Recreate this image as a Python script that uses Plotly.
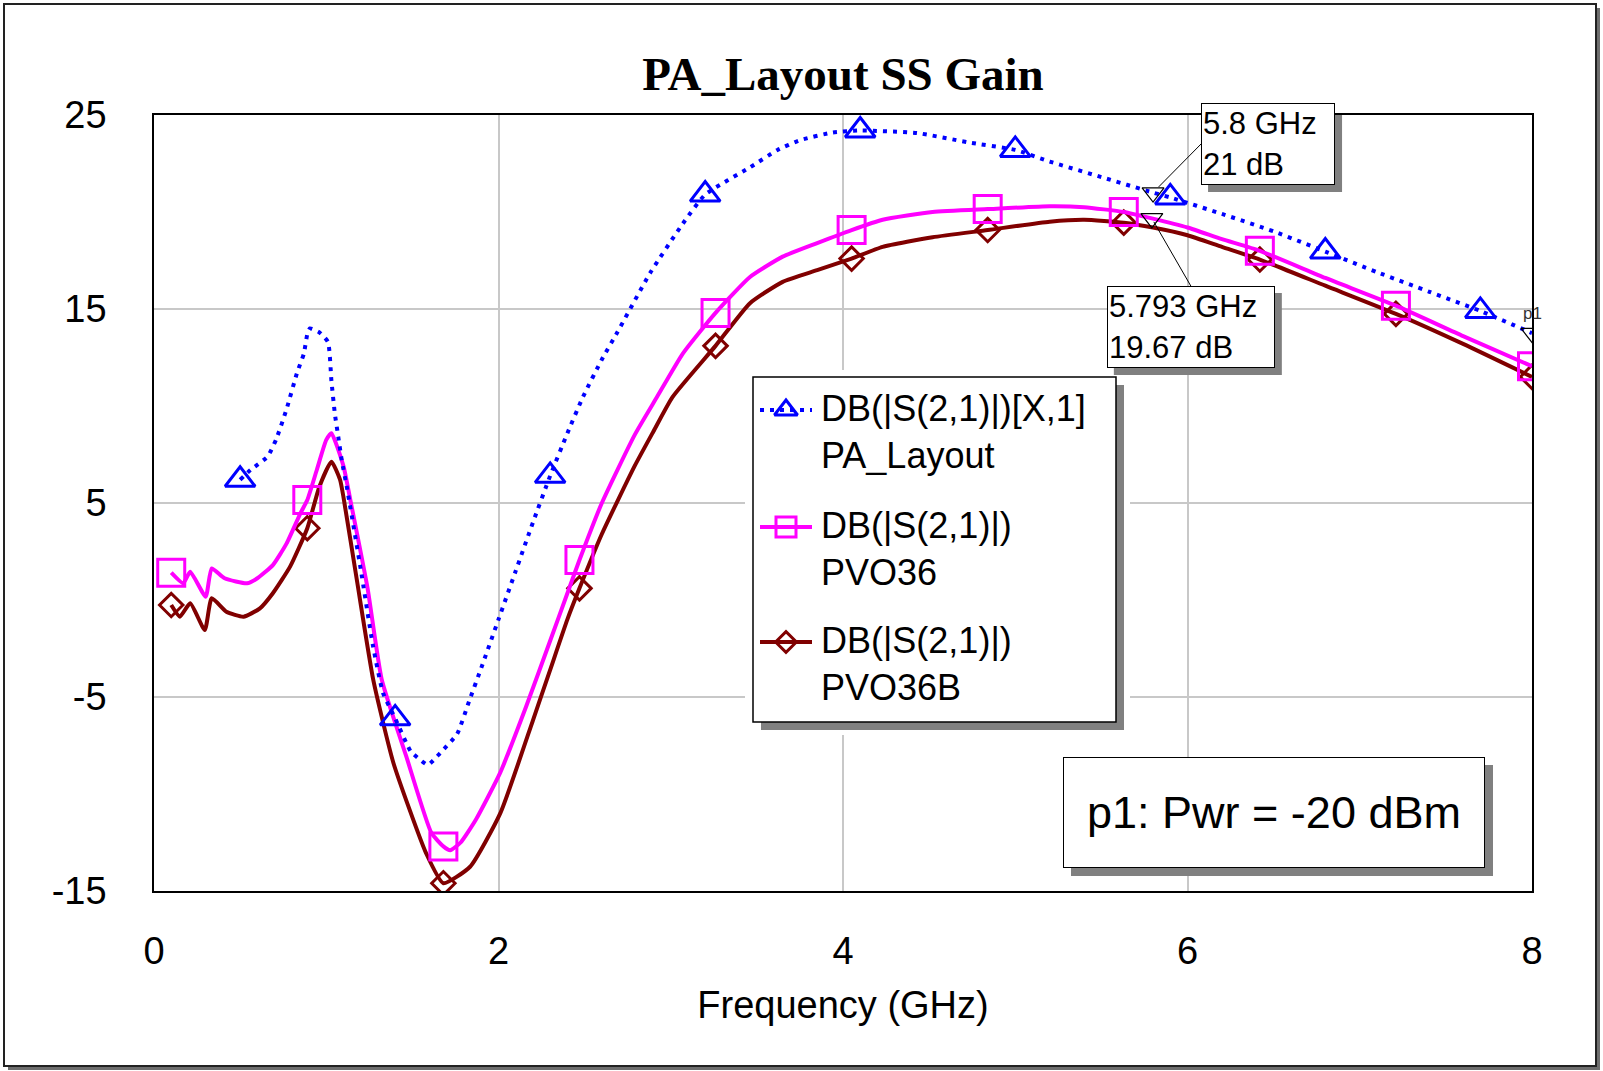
import numpy as np
import plotly.graph_objects as go

# ---- Swept gain data: frequency (GHz) and DB(|S(2,1)|) (dB) ----
pa_layout_f = [0.50, 0.56, 0.66, 0.71, 0.77, 0.83, 0.87, 0.89, 0.905, 0.96, 1.01, 1.03, 1.05,
               1.07, 1.09, 1.12, 1.20, 1.27, 1.33, 1.40, 1.49, 1.54, 1.59, 1.66, 1.76, 1.83,
               1.90, 2.00, 2.10, 2.20, 2.30, 2.40, 2.49, 2.60, 2.69, 2.88, 3.07, 3.20, 3.46,
               3.62, 3.75, 3.94, 4.10, 4.43, 4.72, 5.00, 5.20, 5.50, 5.80, 5.90, 6.20, 6.50,
               6.80, 7.10, 7.40, 7.70, 8.00]
pa_layout_db = [6.2, 6.7, 7.4, 8.3, 9.85, 11.7, 12.7, 13.7, 14.0, 13.8, 13.3, 11.3, 9.6,
                8.4, 7.2, 5.8, 1.6, -2.3, -4.8, -6.1, -7.8, -8.2, -8.5, -7.9, -6.9, -5.2,
                -3.5, -1.0, 1.5, 4.0, 6.4, 8.6, 10.46, 12.4, 13.8, 16.85, 19.4, 20.9, 22.3,
                23.2, 23.7, 24.1, 24.2, 24.07, 23.6, 23.2, 22.6, 21.8, 21.0, 20.75, 19.9, 19.0,
                17.96, 16.9, 15.9, 14.9, 13.76]

pvo36_f = [0.10, 0.17, 0.21, 0.30, 0.335, 0.41, 0.54, 0.60, 0.69, 0.77, 0.85, 0.89, 0.945,
           1.00, 1.03, 1.10, 1.14, 1.24, 1.322, 1.466, 1.61, 1.68, 1.72, 1.78, 1.87, 2.01,
           2.16, 2.30, 2.40, 2.47, 2.60, 2.79, 2.92, 3.07, 3.26, 3.46, 3.65, 3.85, 4.05,
           4.23, 4.52, 4.84, 5.20, 5.40, 5.63, 5.793, 6.00, 6.20, 6.42, 6.80, 7.21, 7.60, 8.00]
pvo36_db = [1.41, 0.86, 1.46, 0.17, 1.63, 1.12, 0.86, 1.12, 1.8, 2.92, 4.47, 5.15, 6.7,
            8.25, 8.6, 6.9, 5.15, 0.6, -4.1, -8.1, -12.0, -12.7, -12.9, -12.5, -11.3, -8.9,
            -5.5, -2.1, 0.35, 2.06, 5.0, 8.5, 10.46, 12.7, 14.8, 16.65, 17.7, 18.4, 19.07,
            19.6, 20.0, 20.15, 20.3, 20.25, 20.0, 19.67, 19.2, 18.6, 18.0, 16.6, 15.17, 13.6, 12.05]

pvo36b_f = [0.10, 0.15, 0.21, 0.295, 0.335, 0.42, 0.52, 0.615, 0.69, 0.79, 0.89, 0.96, 1.03,
            1.08, 1.10, 1.18, 1.273, 1.39, 1.58, 1.68, 1.835, 2.01, 2.20, 2.30, 2.40, 2.47,
            2.60, 2.79, 2.90, 3.01, 3.26, 3.46, 3.65, 3.85, 4.05, 4.23, 4.52, 4.84, 5.20,
            5.40, 5.63, 5.80, 6.00, 6.20, 6.42, 6.80, 7.21, 7.60, 8.00]
pvo36b_db = [-0.26, -0.86, -0.17, -1.55, 0.09, -0.6, -0.86, -0.43, 0.35, 1.72, 3.7, 5.84, 7.13,
             6.2, 5.3, 0.9, -4.12, -8.4, -13.06, -14.6, -13.75, -11.0, -6.2, -3.6, -1.0, 0.6,
             3.4, 6.9, 8.7, 10.46, 13.1, 15.3, 16.4, 17.0, 17.6, 18.2, 18.7, 19.07, 19.5,
             19.6, 19.45, 19.2, 18.8, 18.2, 17.55, 16.2, 14.75, 13.2, 11.5]

# Frequencies at which symbols are drawn on each trace
pa_symbol_f = [0.5, 1.4, 2.3, 3.2, 4.1, 5.0, 5.9, 6.8, 7.7]
pvo_symbol_f = [0.1, 0.89, 1.68, 2.47, 3.26, 4.05, 4.84, 5.63, 6.42, 7.21, 8.0]

# Marker readouts
readout_f = [5.8, 5.793]
readout_db = [21.0, 19.67]

x_ticks = [0, 2, 4, 6, 8]
y_ticks = [-15, -5, 5, 15, 25]

series_names = ["DB(|S(2,1)|)[X,1]<br>PA_Layout",
                "DB(|S(2,1)|)<br>PVO36",
                "DB(|S(2,1)|)<br>PVO36B"]
power_note = "p1: Pwr = -20 dBm"

# ---- Layout geometry (pixels) ----
W, H = 1603, 1071
ML, MR, MT, MB = 154, 71, 115, 180
PW, PH = W - ML - MR, H - MT - MB


def paper_x(p):
    return (p - ML) / PW


def paper_y(p):
    return (H - MB - p) / PH


SANS = "Liberation Sans, Arial, sans-serif"
BLUE, PINK, MAROON = "#0000FF", "#FF00FF", "#800000"
SHADOW = "#808080"
DOTS = "4px,6px"


def pick(fs, vs, wanted):
    fs = np.asarray(fs)
    vs = np.asarray(vs)
    idx = [int(np.argmin(np.abs(fs - w))) for w in wanted]
    return fs[idx], vs[idx]


fig = go.Figure()

styles = [
    (pvo36b_f, pvo36b_db, pvo_symbol_f, MAROON, "solid", "diamond-open", 18),
    (pvo36_f, pvo36_db, pvo_symbol_f, PINK, "solid", "square-open", 27),
    (pa_layout_f, pa_layout_db, pa_symbol_f, BLUE, DOTS, "triangle-up-open", 26),
]
for f, db, sym_f, color, dash, symbol, size in styles:
    fig.add_trace(go.Scatter(x=f, y=db, mode="lines",
                             line=dict(color=color, width=4, dash=dash,
                                       shape="spline", smoothing=0.5),
                             showlegend=False, hoverinfo="skip"))
    mx, my = pick(f, db, sym_f)
    fig.add_trace(go.Scatter(x=mx, y=my, mode="markers",
                             marker=dict(symbol=symbol, size=size, color=color,
                                         line=dict(color=color, width=3)),
                             showlegend=False, hoverinfo="skip"))

# Readout markers plus the p1 end marker on the PA_Layout trace
fig.add_trace(go.Scatter(x=readout_f + [pa_layout_f[-1]], y=readout_db + [pa_layout_db[-1]],
                         mode="markers",
                         marker=dict(symbol="triangle-down-open", size=19, color="black",
                                     line=dict(color="black", width=1.2)),
                         showlegend=False, hoverinfo="skip"))

# ---- Legend drawn on its own pixel-scaled axes ----
LX0, LX1, LY0, LY1 = 745, 1130, 370, 735
legend_rows = [410, 527, 642]
legend_styles = [(BLUE, DOTS, "triangle-up-open", 20),
                 (PINK, "solid", "square-open", 20),
                 (MAROON, "solid", "diamond-open", 16)]
for row, (color, dash, symbol, size) in zip(legend_rows, legend_styles):
    fig.add_trace(go.Scatter(x=[760, 812], y=[row, row], mode="lines",
                             line=dict(color=color, width=4, dash=dash),
                             xaxis="x2", yaxis="y2", showlegend=False, hoverinfo="skip"))
    fig.add_trace(go.Scatter(x=[786], y=[row], mode="markers",
                             marker=dict(symbol=symbol, size=size, color=color,
                                         line=dict(color=color, width=3)),
                             xaxis="x2", yaxis="y2", showlegend=False, hoverinfo="skip"))

shapes = [
    # outer frame with drop shadow
    dict(type="rect", xref="paper", yref="paper", layer="below",
         x0=paper_x(8), x1=paper_x(1600), y0=paper_y(1070), y1=paper_y(8),
         fillcolor="#6e6e6e", line=dict(width=0)),
    dict(type="rect", xref="paper", yref="paper", layer="below",
         x0=paper_x(4), x1=paper_x(1596), y0=paper_y(1066), y1=paper_y(4),
         fillcolor="white", line=dict(color="#222222", width=2)),
    # legend box with drop shadow
    dict(type="rect", xref="x2", yref="y2", layer="below",
         x0=761, x1=1124, y0=385, y1=730, fillcolor=SHADOW, line=dict(width=0)),
    dict(type="rect", xref="x2", yref="y2", layer="below",
         x0=753, x1=1116, y0=377, y1=722, fillcolor="white",
         line=dict(color="black", width=1.5)),
]

annotations = []
for name, row in zip(series_names, legend_rows):
    annotations.append(dict(xref="x2", yref="y2", x=819, y=row + 22, text=name,
                            showarrow=False, xanchor="left", yanchor="middle", align="left",
                            font=dict(family=SANS, size=36, color="black")))

# Readout boxes: (ax, ay) pixel offset of the box anchor from the marked point,
# outer box size (bw, bh) in pixels.
SH = 7
readout_boxes = [
    dict(ax=48, ay=-48.6, xanchor="left", yanchor="middle", bw=134, bh=82, standoff=8),
    dict(ax=39, ay=67.6, xanchor="center", yanchor="top", bw=168, bh=82, standoff=4),
]
for f, db, box in zip(readout_f, readout_db, readout_boxes):
    # box edges in screen pixels relative to the marked point (y down)
    left = box["ax"] - (0 if box["xanchor"] == "left" else box["bw"] / 2)
    top = box["ay"] - (box["bh"] / 2 if box["yanchor"] == "middle" else 0)
    shapes.append(dict(type="rect", layer="above", xref="x", yref="y",
                       xsizemode="pixel", ysizemode="pixel", xanchor=f, yanchor=db,
                       x0=left + SH, x1=left + box["bw"] + SH,
                       y0=-(top + SH), y1=-(top + box["bh"] + SH),
                       fillcolor=SHADOW, line=dict(width=0)))
    annotations.append(dict(x=f, y=db, xref="x", yref="y", text=f"{f:g} GHz<br>{db:g} dB",
                            align="left", valign="middle",
                            xanchor=box["xanchor"], yanchor=box["yanchor"],
                            width=box["bw"] - 4, height=box["bh"] - 4,
                            borderwidth=1, borderpad=1,
                            showarrow=True, axref="pixel", ayref="pixel",
                            ax=box["ax"], ay=box["ay"], arrowhead=0, arrowwidth=1,
                            arrowcolor="black", standoff=box["standoff"],
                            bgcolor="white", bordercolor="black",
                            font=dict(family=SANS, size=31, color="black")))

# p1 tag on the end marker
annotations.append(dict(x=pa_layout_f[-1], y=pa_layout_db[-1], xref="x", yref="y", text="p1",
                        showarrow=False, yshift=20, font=dict(family=SANS, size=17, color="#333333")))

# Power note box with drop shadow
NX0, NY0, NX1, NY1 = 1063, 757, 1485, 868
shapes.append(dict(type="rect", xref="paper", yref="paper", layer="above",
                   x0=paper_x(NX0 + 8), x1=paper_x(NX1 + 8),
                   y0=paper_y(NY1 + 8), y1=paper_y(NY0 + 8),
                   fillcolor=SHADOW, line=dict(width=0)))
annotations.append(dict(xref="paper", yref="paper",
                        x=paper_x((NX0 + NX1) / 2), y=paper_y((NY0 + NY1) / 2),
                        text=power_note, showarrow=False, xanchor="center", yanchor="middle",
                        width=NX1 - NX0 - 4, height=NY1 - NY0 - 4, borderwidth=1, borderpad=1,
                        bgcolor="white", bordercolor="black",
                        font=dict(family=SANS, size=45, color="black")))

fig.update_layout(
    width=W, height=H, autosize=False,
    margin=dict(l=ML, r=MR, t=MT, b=MB),
    paper_bgcolor="white", plot_bgcolor="white",
    showlegend=False,
    title=dict(text="<b>PA_Layout SS Gain</b>", x=0.5, xref="paper", xanchor="center",
               y=1 - 74 / H, yref="container", yanchor="middle",
               font=dict(family="Liberation Serif, Times New Roman, serif", size=47, color="black")),
    xaxis=dict(range=[0, 8], tickvals=x_ticks, ticktext=[str(v) for v in x_ticks],
               showgrid=True, gridcolor="#c8c8c8", gridwidth=1.5, zeroline=False,
               showline=True, mirror=True, linecolor="black", linewidth=1.5,
               ticks="", ticklabelstandoff=26,
               tickfont=dict(family=SANS, size=38, color="black"),
               title=dict(text="Frequency (GHz)", standoff=20,
                          font=dict(family=SANS, size=38, color="black"))),
    yaxis=dict(range=[-15, 25], tickvals=y_ticks, ticktext=[str(v) for v in y_ticks],
               showgrid=True, gridcolor="#c8c8c8", gridwidth=1.5, zeroline=False,
               showline=True, mirror=True, linecolor="black", linewidth=1.5,
               ticks="", ticklabelstandoff=38,
               tickfont=dict(family=SANS, size=38, color="black")),
    xaxis2=dict(domain=[paper_x(LX0), paper_x(LX1)], range=[LX0, LX1], anchor="y2",
                visible=False, showgrid=False, zeroline=False, fixedrange=True),
    yaxis2=dict(domain=[paper_y(LY1), paper_y(LY0)], range=[LY1, LY0], anchor="x2",
                visible=False, showgrid=False, zeroline=False, fixedrange=True),
    shapes=shapes,
    annotations=annotations,
)

fig.write_html("out.html")
